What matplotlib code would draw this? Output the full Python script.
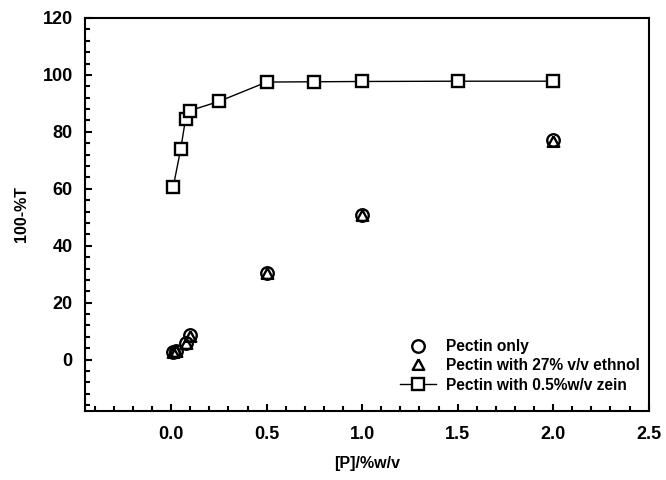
import matplotlib
matplotlib.use("Agg")
import matplotlib.pyplot as plt
from matplotlib.ticker import MultipleLocator

plt.rcParams['font.family'] = ['Liberation Sans', 'DejaVu Sans']
plt.rcParams['font.weight'] = 'bold'

# Data
x_pectin = [0.01, 0.025, 0.075, 0.1, 0.5, 1.0, 2.0]
y_pectin = [2.8, 3.0, 6.0, 8.5, 30.5, 50.8, 77.0]
x_ethanol = [0.01, 0.025, 0.075, 0.1, 0.5, 1.0, 2.0]
y_ethanol = [2.5, 2.8, 5.5, 8.0, 30.0, 50.5, 76.5]
x_zein = [0.01, 0.05, 0.075, 0.1, 0.25, 0.5, 0.75, 1.0, 1.5, 2.0]
y_zein = [60.5, 74.0, 84.5, 87.5, 90.7, 97.5, 97.6, 97.7, 97.8, 97.8]

labels = ["Pectin only", "Pectin with 27% v/v ethnol", "Pectin with 0.5%w/v zein"]
xticks = [0.0, 0.5, 1.0, 1.5, 2.0, 2.5]
xticklabels = ['0.0', '0.5', '1.0', '1.5', '2.0', '2.5']
yticks = [0, 20, 40, 60, 80, 100, 120]

fig = plt.figure(figsize=(6.66, 4.8), dpi=100)
ax = fig.add_axes([0.128, 0.144, 0.846, 0.8185])

tri = [(0, 1), (-0.92, -0.7), (0.92, -0.7), (0, 1)]
ms = 9
ax.plot(x_pectin, y_pectin, linestyle='none', marker='o', ms=ms, mfc='none',
        mec='black', mew=1.7, label=labels[0])
ax.plot(x_ethanol, y_ethanol, linestyle='none', marker=tri, ms=ms, mfc='none',
        mec='black', mew=1.7, label=labels[1])
ax.plot(x_zein, y_zein, linestyle='-', color='black', lw=1.0, marker='s', ms=8.5,
        mfc='white', mec='black', mew=1.7, label=labels[2])

ax.set_xlim(-0.45, 2.5)
ax.set_ylim(-18, 120)
ax.xaxis.set_minor_locator(MultipleLocator(0.1))
ax.yaxis.set_minor_locator(MultipleLocator(4))
ax.set_xticks(xticks)
ax.set_xticklabels(xticklabels)
ax.set_yticks(yticks)

ax.tick_params(which='both', direction='in', top=False, right=False, width=1.5)
ax.tick_params(which='major', length=5, labelsize=13)
ax.tick_params(axis='x', which='major', pad=11)
ax.tick_params(axis='y', which='major', pad=9)
ax.tick_params(which='minor', length=3.5)
for lab in ax.get_xticklabels() + ax.get_yticklabels():
    lab.set_fontweight('bold')
for s in ax.spines.values():
    s.set_linewidth(1.5)

ax.set_xlabel('[P]/%w/v', fontsize=11.5, fontweight='bold', labelpad=9)
ax.set_ylabel('100-%T', fontsize=11.5, fontweight='bold', labelpad=10)

leg = ax.legend(loc='lower right', frameon=False,
                prop={'weight': 'bold', 'size': 11.2},
                bbox_to_anchor=(0.984, 0.046), borderaxespad=0, borderpad=0,
                handlelength=2.35, labelspacing=0.28, handletextpad=0.6)

fig.savefig('out.png', dpi=100)
